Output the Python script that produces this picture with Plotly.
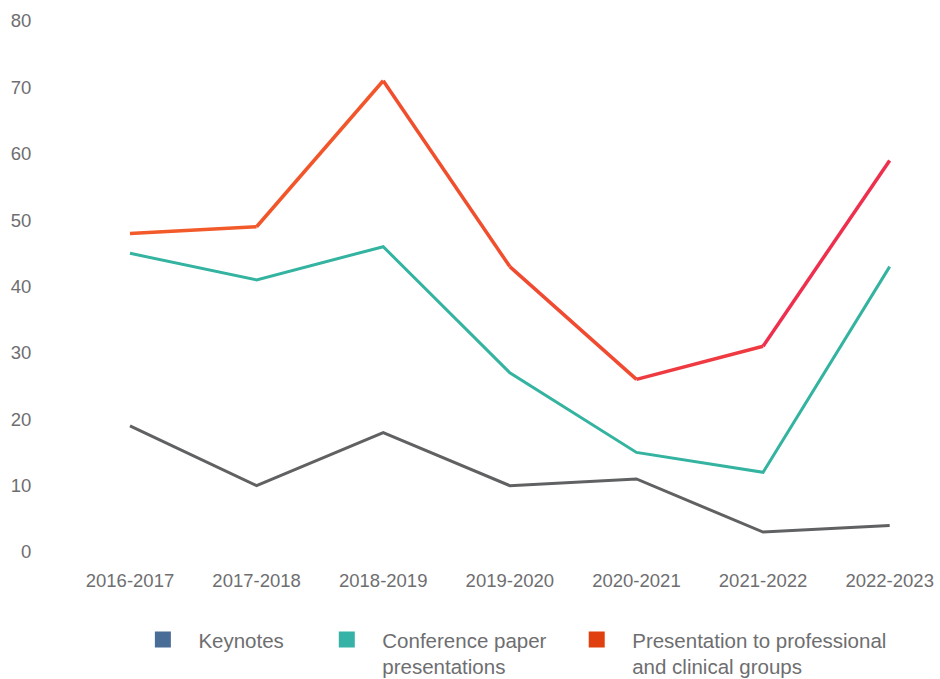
import plotly.graph_objects as go

years = ["2016-2017", "2017-2018", "2018-2019", "2019-2020", "2020-2021", "2021-2022", "2022-2023"]
keynotes = [19, 10, 18, 10, 11, 3, 4]
conference = [45, 41, 46, 27, 15, 12, 43]
presentation = [48, 49, 71, 43, 26, 31, 59]
y_ticks = [0, 10, 20, 30, 40, 50, 60, 70, 80]

series_names = ["Keynotes", "Conference paper<br>presentations", "Presentation to professional<br>and clinical groups"]
legend_colors = ["#4a6d98", "#37b2a6", "#e0400f"]
line_colors = ["#606163", "#33b3a0"]
red_segment_colors = ["#f25a2a", "#f2552a", "#f04e2c", "#f04a30", "#ee3a40", "#ee2f4e"]

FONT = "Liberation Sans"
TXT = "#6e6e70"

fig = go.Figure()

fig.add_trace(go.Scatter(x=years, y=keynotes, mode="lines",
                         line=dict(color=line_colors[0], width=3), showlegend=False))
fig.add_trace(go.Scatter(x=years, y=conference, mode="lines",
                         line=dict(color=line_colors[1], width=3), showlegend=False))
for i in range(len(years) - 1):
    fig.add_trace(go.Scatter(x=years[i:i + 2], y=presentation[i:i + 2], mode="lines",
                             line=dict(color=red_segment_colors[i], width=3.5),
                             showlegend=False))

pad = "\u00a0\u00a0\u2009"
legend_ids = ["legend", "legend2", "legend3"]
for name, col, lid in zip(series_names, legend_colors, legend_ids):
    label = "<br>".join(pad + part for part in name.split("<br>"))
    fig.add_trace(go.Scatter(x=[None], y=[None], mode="markers", name=label,
                             marker=dict(symbol="square", size=20, color=col),
                             legend=lid, showlegend=True))

leg_common = dict(orientation="v", yanchor="top", xanchor="left", valign="top",
                  font=dict(family=FONT, size=20.5, color=TXT),
                  bgcolor="rgba(0,0,0,0)", borderwidth=0)

fig.update_layout(
    width=940, height=679,
    margin=dict(l=54, r=6, t=21, b=127, autoexpand=False),
    paper_bgcolor="white", plot_bgcolor="white",
    font=dict(family=FONT, size=18.5, color=TXT),
    xaxis=dict(range=[-0.6, 6.35], showgrid=False, zeroline=False, showline=False,
               ticks="outside", ticklen=12, tickcolor="rgba(0,0,0,0)", automargin=False,
               tickfont=dict(family=FONT, size=18.5, color=TXT)),
    yaxis=dict(range=[0, 80], tickvals=y_ticks, showgrid=False, zeroline=False, showline=False,
               ticks="outside", ticklen=18, tickcolor="rgba(0,0,0,0)", automargin=False,
               tickfont=dict(family=FONT, size=18.5, color=TXT)),
    legend=dict(x=0.101, y=-0.1275, **leg_common),
    legend2=dict(x=0.31, y=-0.1275, **leg_common),
    legend3=dict(x=0.594, y=-0.1275, **leg_common),
)

fig.write_html("out.html", config={"displayModeBar": False},
               post_script="document.body.style.margin='0';document.body.style.overflow='hidden';")
